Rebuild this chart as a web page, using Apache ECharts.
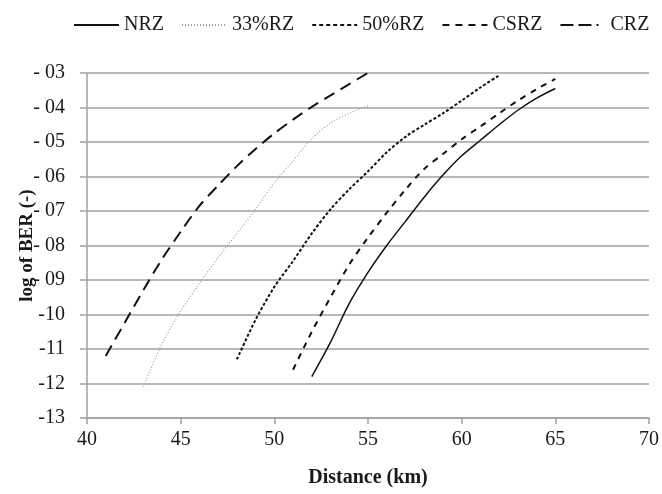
<!DOCTYPE html>
<html>
<head>
<meta charset="utf-8">
<script src="https://cdn.jsdelivr.net/npm/echarts@6/dist/echarts.min.js"></script>
<style>
  html, body { margin: 0; padding: 0; background: #fff; }
  #chart { width: 662px; height: 494px; }
</style>
</head>
<body>
<div id="chart"></div>
<script>
// distances (km) and log(BER) per modulation format
const nrzX = [52, 53, 54, 55, 56, 57, 58, 59, 60, 61, 62, 63, 64, 65];
const nrzY = [-11.8, -10.8, -9.68, -8.78, -8.0, -7.3, -6.6, -5.96, -5.4, -4.95, -4.5, -4.08, -3.73, -3.45];

const rz33X = [43, 44, 45, 46, 47, 48, 49, 50, 51, 52, 53, 54, 55];
const rz33Y = [-12.1, -10.85, -9.9, -9.1, -8.35, -7.65, -6.95, -6.18, -5.55, -4.9, -4.45, -4.17, -3.95];

const rz50X = [48, 49, 50, 51, 52, 53, 54, 55, 56, 57, 58, 59, 60, 61, 62];
const rz50Y = [-11.3, -10.15, -9.2, -8.45, -7.65, -6.95, -6.37, -5.85, -5.3, -4.85, -4.5, -4.17, -3.8, -3.42, -3.07];

const csrzX = [51, 52, 53, 54, 55, 56, 57, 58, 59, 60, 61, 62, 63, 64, 65];
const csrzY = [-11.6, -10.5, -9.5, -8.55, -7.77, -7.05, -6.38, -5.78, -5.35, -4.92, -4.55, -4.17, -3.8, -3.47, -3.17];

const crzX = [41, 42, 43, 44, 45, 46, 47, 48, 49, 50, 51, 52, 53, 54, 55];
const crzY = [-11.2, -10.25, -9.3, -8.4, -7.6, -6.85, -6.26, -5.7, -5.2, -4.75, -4.35, -3.98, -3.65, -3.32, -3.0];

const font = 'Liberation Serif';
const gridColor = '#a0a0a0';

function pairs(xs, ys) {
  return xs.map((x, i) => [x, ys[i]]);
}

function yLabel(v) {
  const n = Math.round(-v);
  return n < 10 ? '- 0' + n : '-' + n;
}

function makeLine(name, xs, ys, style) {
  return {
    name: name,
    type: 'line',
    smooth: 0.3,
    symbol: 'none',
    data: pairs(xs, ys),
    lineStyle: style,
    itemStyle: { color: style.color }
  };
}

const chart = echarts.init(document.getElementById('chart'), null, { renderer: 'canvas' });

chart.setOption({
  animation: false,
  backgroundColor: '#fff',
  grid: { left: 87, right: 10, top: 73, bottom: 76 },
  legend: {
    data: [
      { name: 'NRZ', lineStyle: { type: 'solid', width: 2 } },
      { name: '33%RZ', lineStyle: { type: [1, 2] } },
      { name: '50%RZ', lineStyle: { type: [4, 3] } },
      { name: 'CSRZ', lineStyle: { type: [7, 6] } },
      { name: 'CRZ', lineStyle: { type: [13, 5, 13, 5, 2, 7] } }
    ],
    left: 68,
    top: 10,
    itemWidth: 45,
    itemHeight: 12,
    itemGap: 17,
    itemStyle: { opacity: 0 },
    textStyle: { fontFamily: font, fontSize: 20, color: '#1a1a1a' }
  },
  xAxis: {
    type: 'value',
    min: 40,
    max: 70,
    interval: 5,
    name: 'Distance (km)',
    nameLocation: 'middle',
    nameGap: 50,
    nameMoveOverlap: false,
    nameTextStyle: { fontFamily: font, fontSize: 20, fontWeight: 'bold', color: '#1a1a1a' },
    axisLine: { show: true, lineStyle: { color: gridColor, width: 1.5 } },
    axisTick: { show: true, length: 6, lineStyle: { color: gridColor, width: 1.5 } },
    axisLabel: { fontFamily: font, fontSize: 20, color: '#1a1a1a', margin: 12 },
    splitLine: { show: false }
  },
  yAxis: {
    type: 'value',
    min: -13,
    max: -3,
    interval: 1,
    name: 'log of BER (-)',
    nameLocation: 'middle',
    nameGap: 50,
    nameMoveOverlap: false,
    nameRotate: 90,
    nameTextStyle: { fontFamily: font, fontSize: 19, fontWeight: 'bold', color: '#1a1a1a' },
    axisLine: { show: true, lineStyle: { color: gridColor, width: 1.5 } },
    axisTick: { show: true, length: 7, lineStyle: { color: gridColor, width: 1.5 } },
    axisLabel: { fontFamily: font, fontSize: 20, color: '#1a1a1a', margin: 22, formatter: yLabel },
    splitLine: { show: true, lineStyle: { color: gridColor, width: 1.5 } }
  },
  series: [
    makeLine('NRZ', nrzX, nrzY, { color: '#111', width: 1.5, type: 'solid' }),
    makeLine('33%RZ', rz33X, rz33Y, { color: '#9a9a9a', width: 1.2, type: [1, 2] }),
    makeLine('50%RZ', rz50X, rz50Y, { color: '#111', width: 2, type: [3, 2] }),
    makeLine('CSRZ', csrzX, csrzY, { color: '#111', width: 2, type: [6, 6] }),
    makeLine('CRZ', crzX, crzY, { color: '#111', width: 2, type: [12, 7] })
  ]
});
</script>
</body>
</html>
